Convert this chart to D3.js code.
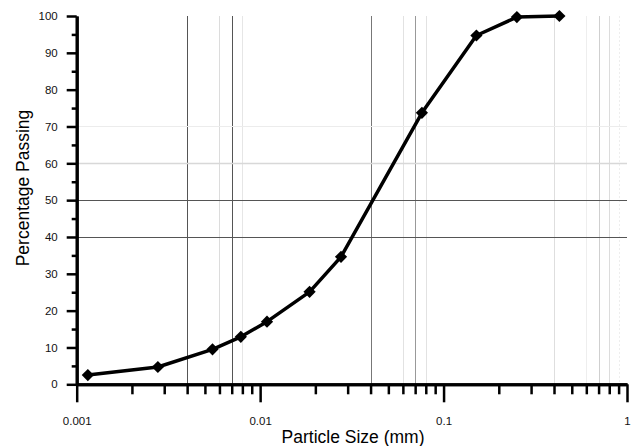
<!DOCTYPE html>
<html>
<head>
<meta charset="utf-8">
<script src="https://cdn.jsdelivr.net/npm/d3@7"></script>
<style>
	body { margin: 0; background: #fff; }
	text { font-family: "Liberation Sans", Arial, sans-serif; }
</style>
</head>
<body>
<svg id="chart" width="634" height="446"></svg>
<script>
/*	Chart data ---------------------------------------------------------------*/
var particleSize = [0.00115, 0.00277, 0.0055, 0.00785, 0.0109, 0.0186, 0.0276, 0.0762, 0.151, 0.251, 0.428];
var percentPassing = [2.5, 4.7, 9.5, 12.9, 17.0, 25.1, 34.6, 73.7, 94.7, 99.7, 100];
var xMajorTicks = [0.001, 0.01, 0.1, 1];
var xTickLabels = ["0.001", "0.01", "0.1", "1"];
var yMajorTicks = [0, 10, 20, 30, 40, 50, 60, 70, 80, 90, 100];
var yMinorTicks = [5, 15, 25, 35, 45, 55, 65, 75, 85, 95];
var gridX = [0.004, 0.006, 0.007, 0.008, 0.04, 0.06, 0.07, 0.08, 0.4, 0.6, 0.7, 0.8, 0.9];
var gridY = [40, 50, 60, 70];

var svg = d3.select("#chart");
var padding = {left: 76.7, right: 7, top: 16, bottom: 61.7};
var width = 634, height = 446;

var xScale = d3.scaleLog().domain([0.001, 1]).range([padding.left, width - padding.right]);
var yScale = d3.scaleLinear().domain([0, 100]).range([height - padding.bottom, padding.top]);

/*	Gridline shades (the reference mixes dark and faint lines) ----------------*/
var gridShade = function(v) {
	var s = {0.004: "#555", 0.006: "#dcdcdc", 0.007: "#555", 0.008: "#e6e6e6",
		0.04: "#777", 0.06: "#e2e2e2", 0.07: "#999", 0.08: "#e2e2e2",
		0.4: "#dedede", 0.6: "#eeeeee", 0.7: "#cfcfcf", 0.8: "#dcdcdc", 0.9: "#eeeeee",
		40: "#555", 50: "#555", 60: "#d8d8d8", 70: "#ececec"};
	return s[v];
};

var grid = svg.append("g").attr("class", "grid");
grid.selectAll(".gx").data(gridX).enter()
	.append("line")
	.attr("class", "gx")
	.attr("x1", function(d){ return Math.round(xScale(d)) + 0.5; })
	.attr("x2", function(d){ return Math.round(xScale(d)) + 0.5; })
	.attr("y1", yScale(100))
	.attr("y2", yScale(0))
	.attr("stroke", gridShade)
	.attr("stroke-dasharray", function(d){ return d === 0.9 ? "2,2" : null; })
	.attr("stroke-width", 1);
grid.selectAll(".gy").data(gridY).enter()
	.append("line")
	.attr("class", "gy")
	.attr("x1", xScale(0.001))
	.attr("x2", xScale(1))
	.attr("y1", function(d){ return Math.round(yScale(d)) + 0.5; })
	.attr("y2", function(d){ return Math.round(yScale(d)) + 0.5; })
	.attr("stroke", gridShade)
	.attr("stroke-width", function(d){ return d === 60 ? 1.5 : 1; });

/*	X axis: minor then major ticks -------------------------------------------*/
var xMinor = [];
[0.001, 0.01, 0.1].forEach(function(dec){
	for (var k = 2; k <= 9; k++) xMinor.push(dec * k);
});
var xAxisMinor = d3.axisBottom(xScale).tickValues(xMinor).tickSize(10).tickSizeOuter(0).tickFormat("");
var xAxisMajor = d3.axisBottom(xScale).tickValues(xMajorTicks).tickSize(18).tickSizeOuter(0).tickPadding(15)
	.tickFormat(function(d, i){ return xTickLabels[i]; });

var gxMinor = svg.append("g").attr("transform", "translate(0," + yScale(0) + ")").call(xAxisMinor);
var gxMajor = svg.append("g").attr("transform", "translate(0," + yScale(0) + ")").call(xAxisMajor);

/*	Y axis ------------------------------------------------------------------*/
var yAxisMinor = d3.axisLeft(yScale).tickValues(yMinorTicks).tickSize(5).tickSizeOuter(0).tickFormat("");
var yAxisMajor = d3.axisLeft(yScale).tickValues(yMajorTicks).tickSize(10).tickSizeOuter(0).tickPadding(9);
var gyMinor = svg.append("g").attr("transform", "translate(" + padding.left + ",0)").call(yAxisMinor);
var gyMajor = svg.append("g").attr("transform", "translate(" + padding.left + ",0)").call(yAxisMajor);

svg.selectAll(".domain").attr("stroke", "#000").attr("stroke-width", 3);
svg.selectAll(".tick line").attr("stroke", "#000").attr("stroke-width", 2.5);
svg.selectAll(".tick text").style("font-size", "11.5px").attr("fill", "#111");

/*	Axis titles --------------------------------------------------------------*/
svg.append("text")
	.attr("x", 353)
	.attr("y", 443)
	.attr("text-anchor", "middle")
	.style("font-size", "17.5px")
	.attr("fill", "#000")
	.text("Particle Size (mm)");
svg.append("text")
	.attr("transform", "translate(29,188)rotate(-90)")
	.attr("text-anchor", "middle")
	.style("font-size", "17.5px")
	.attr("fill", "#000")
	.text("Percentage Passing");

/*	Grading curve and markers ------------------------------------------------*/
var line = d3.line()
	.x(function(d, i){ return xScale(d); })
	.y(function(d, i){ return yScale(percentPassing[i]); });
svg.append("path")
	.datum(particleSize)
	.attr("d", line)
	.attr("fill", "none")
	.attr("stroke", "#000")
	.attr("stroke-width", 3.5)
	.attr("stroke-linejoin", "round");

var diamond = d3.symbol().type(d3.symbolDiamond2).size(95);
svg.selectAll(".pt").data(particleSize).enter()
	.append("path")
	.attr("class", "pt")
	.attr("d", diamond)
	.attr("transform", function(d, i){
		return "translate(" + xScale(d) + "," + yScale(percentPassing[i]) + ")";
	})
	.attr("fill", "#000");
</script>
</body>
</html>
